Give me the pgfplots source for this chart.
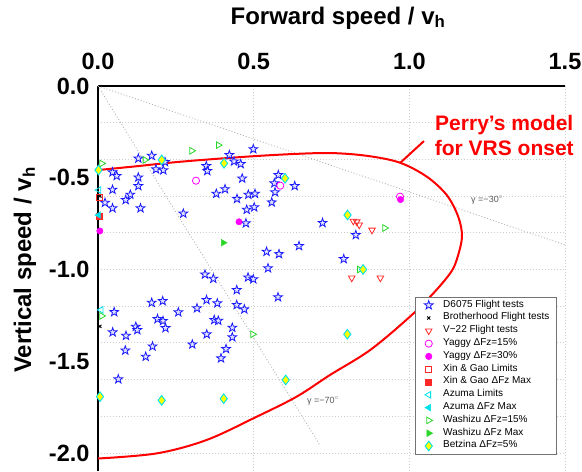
\documentclass[border=0pt]{standalone}
\usepackage{pgfplots}
\pgfplotsset{compat=1.18}
\usepackage{fontspec}
\setmainfont{Liberation Sans}
\usetikzlibrary{plotmarks}

\definecolor{mblue}{RGB}{25,25,255}
\definecolor{mgreen}{RGB}{40,215,40}
\definecolor{mcyan}{RGB}{0,225,235}
\definecolor{mmag}{RGB}{255,0,255}
\definecolor{mred}{RGB}{255,40,40}
\definecolor{myellow}{RGB}{255,255,0}
\definecolor{gridgray}{RGB}{205,205,205}
\definecolor{refgray}{RGB}{175,175,175}
\definecolor{perry}{RGB}{255,0,0}

\pgfdeclareplotmark{pentagram}{%
  \pgfpathmoveto{\pgfpointpolar{90}{\pgfplotmarksize}}%
  \pgfpathlineto{\pgfpointpolar{126}{0.40\pgfplotmarksize}}%
  \pgfpathlineto{\pgfpointpolar{162}{\pgfplotmarksize}}%
  \pgfpathlineto{\pgfpointpolar{198}{0.40\pgfplotmarksize}}%
  \pgfpathlineto{\pgfpointpolar{234}{\pgfplotmarksize}}%
  \pgfpathlineto{\pgfpointpolar{270}{0.40\pgfplotmarksize}}%
  \pgfpathlineto{\pgfpointpolar{306}{\pgfplotmarksize}}%
  \pgfpathlineto{\pgfpointpolar{342}{0.40\pgfplotmarksize}}%
  \pgfpathlineto{\pgfpointpolar{18}{\pgfplotmarksize}}%
  \pgfpathlineto{\pgfpointpolar{54}{0.40\pgfplotmarksize}}%
  \pgfpathclose
  \pgfusepathqfillstroke
}

\begin{document}
\begin{tikzpicture}
\path[use as bounding box] (-98bp,-0.65bp) rectangle (484bp,471.35bp);
\begin{axis}[
  scale only axis,
  width=467bp, height=385.35bp,
  xmin=0, xmax=1.5, ymin=-2.1, ymax=0,
  axis x line*=top, axis y line*=left,
  axis line style={line width=2.5bp, black},
  clip=false,
  xtick={0,0.5,1,1.5}, xticklabels={0.0,0.5,1.0,1.5},
  ytick={0,-0.5,-1,-1.5,-2}, yticklabels={0.0,-0.5,-1.0,-1.5,-2.0},
  minor ytick={-0.2,-0.4,-0.6,-0.8,-1.0,-1.2,-1.4,-1.6,-1.8,-2.0},
  xmajorgrids=true, yminorgrids=true, ymajorgrids=false,
  major tick length=0pt, minor tick length=0pt,
  grid style={gridgray, line width=0.8bp, dash pattern=on 1bp off 2bp},
  minor grid style={gridgray, line width=0.8bp, dash pattern=on 1bp off 2bp},
  tick label style={font=\fontsize{23.5bp}{25bp}\selectfont\bfseries},
  xticklabel style={yshift=13bp},
  yticklabel style={xshift=-5bp},
  xlabel={Forward speed / v\textsubscript{h}},
  ylabel={Vertical speed / v\textsubscript{h}},
  label style={font=\fontsize{24bp}{26bp}\selectfont\bfseries},
  xlabel style={at={(rel axis cs:0.514,1.1765)}, anchor=center},
  ylabel style={at={(rel axis cs:-0.1563,0.5225)}, anchor=center},
  legend style={at={(axis cs:1.018,-1.150)}, anchor=north west,
    font=\fontsize{10bp}{12bp}\selectfont, draw=black!55, line width=0.6bp,
    inner xsep=6.5bp, inner ysep=1.5bp,
    nodes={inner sep=0.5bp, text height=7.8bp, text depth=4bp},
    cells={anchor=west}},
  legend image code/.code={%
    \path[draw=none] (0bp,0bp) -- (21bp,0bp);
    \draw[#1, draw=none] plot[only marks] coordinates {(7bp,0bp)};},
]
% gamma reference lines
\addplot[refgray, line width=0.8bp, dash pattern=on 1bp off 2bp, forget plot] coordinates {(0,0) (1.5,-0.866)};
\addplot[refgray, line width=0.8bp, dash pattern=on 1bp off 2bp, forget plot] coordinates {(0,0) (0.713,-1.958)};

% D6075 Flight tests
\addplot[only marks, mark=pentagram, mark size=4.6bp, mark options={draw=mblue, fill=mblue!12, line width=0.8bp}] coordinates {
(0.1295,-0.395) (0.1725,-0.380) (0.2152,-0.414) (0.1863,-0.454) (0.2098,-0.459)
(0.0466,-0.470) (0.0601,-0.490) (0.1295,-0.498) (0.1295,-0.545) (0.0466,-0.565)
(0.1038,-0.592) (0.0890,-0.621) (0.0225,-0.636) (0.0466,-0.666) (0.1365,-0.666)
(0.274,-0.695) (0.4218,-0.376) (0.4989,-0.344) (0.4369,-0.411) (0.4584,-0.425)
(0.3479,-0.436) (0.3511,-0.463) (0.4632,-0.504) (0.408,-0.562) (0.380,-0.587)
(0.4465,-0.615) (0.4828,-0.592) (0.5043,-0.587) (0.4777,-0.674) (0.5018,-0.661)
(0.4751,-0.748) (0.558,-0.634) (0.5686,-0.579) (0.5663,-0.530) (0.5792,-0.485)
(0.6319,-0.545) (0.7212,-0.746) (0.6457,-0.872) (0.8281,-0.812) (0.7893,-0.943)
(0.5413,-0.903) (0.5814,-0.916) (0.5461,-0.993) (0.3437,-1.027) (0.3704,-1.050)
(0.4819,-1.043) (0.4989,-1.053) (0.4456,-1.112) (0.5782,-1.151) (0.1725,-1.181)
(0.2078,-1.172) (0.3485,-1.166) (0.3832,-1.184) (0.4456,-1.193) (0.470,-1.217)
(0.052,-1.232) (0.258,-1.233) (0.318,-1.211) (0.1911,-1.270) (0.2088,-1.280)
(0.3733,-1.275) (0.3864,-1.279) (0.1214,-1.312) (0.1262,-1.330) (0.2168,-1.319)
(0.0472,-1.342) (0.0899,-1.361) (0.3492,-1.353) (0.4314,-1.317) (0.4314,-1.369)
(0.1751,-1.419) (0.3029,-1.408) (0.4112,-1.433) (0.0877,-1.441) (0.1532,-1.475)
(0.3951,-1.484) (0.0652,-1.598)
};
\addlegendentry{D6075 Flight tests}
% Brotherhood
\addplot[only marks, mark=x, mark size=2.2bp, mark options={draw=black, line width=1bp}] coordinates {
(0.006,-0.600) (0.006,-1.31)
};
\addlegendentry{Brotherhood Flight tests}
% V-22
\addplot[only marks, mark=triangle, mark size=3.8bp, mark options={draw=mred, rotate=180, line width=0.8bp}] coordinates {
(0.820,-0.736) (0.831,-0.740) (0.839,-0.757) (0.880,-0.785) (0.815,-1.046) (0.907,-1.046)
};
\addlegendentry{V−22 Flight tests}
% Yaggy 15
\addplot[only marks, mark=o, mark size=3.6bp, mark options={draw=mmag, line width=0.8bp}] coordinates {
(0.3148,-0.516) (0.5854,-0.543) (0.970,-0.603)
};
\addlegendentry{Yaggy ΔFz=15\%}
% Yaggy 30
\addplot[only marks, mark=*, mark size=3.2bp, mark options={draw=mmag, fill=mmag}] coordinates {
(0.4529,-0.740) (0.9717,-0.619) (0.006,-0.79)
};
\addlegendentry{Yaggy ΔFz=30\%}
% Xin & Gao limits
\addplot[only marks, mark=square, mark size=3bp, mark options={draw=mred, line width=0.8bp}] coordinates {
(0.004,-0.605)
};
\addlegendentry{Xin \& Gao Limits}
% Xin & Gao max
\addplot[only marks, mark=square*, mark size=3bp, mark options={draw=mred, fill=mred}] coordinates {
(0.004,-0.708)
};
\addlegendentry{Xin \& Gao ΔFz Max}
% Azuma limits
\addplot[only marks, mark=triangle, mark size=3.8bp, mark options={draw=mcyan, rotate=90, line width=0.8bp}] coordinates {
(0.003,-0.567) (0.01,-1.22)
};
\addlegendentry{Azuma Limits}
% Azuma max
\addplot[only marks, mark=triangle*, mark size=3.8bp, mark options={draw=mcyan, fill=mcyan, rotate=90}] coordinates {
(0.002,-0.703)
};
\addlegendentry{Azuma ΔFz Max}
% Washizu 15
\addplot[only marks, mark=triangle, mark size=3.8bp, mark options={draw=mgreen, rotate=-90, line width=0.8bp}] coordinates {
(0.0119,-0.422) (0.151,-0.403) (0.301,-0.353) (0.3865,-0.322) (0.497,-1.353)
(0.921,-0.774) (0.840,-1.000) (0.0119,-1.253)
};
\addlegendentry{Washizu ΔFz=15\%}
% Washizu max
\addplot[only marks, mark=triangle*, mark size=3.8bp, mark options={draw=mgreen, fill=mgreen, rotate=-90}] coordinates {
(0.4025,-0.854)
};
\addlegendentry{Washizu ΔFz Max}
% Betzina
\addplot[only marks, mark=diamond*, mark size=4.8bp, mark options={draw=mcyan, fill=myellow, line width=0.9bp}] coordinates {
(0.0016,-0.458) (0.2046,-0.403) (0.4048,-0.421) (0.6007,-0.503) (0.8015,-0.703)
(0.8513,-1.000) (0.8008,-1.353) (0.603,-1.602) (0.0064,-1.693) (0.2046,-1.713)
(0.4038,-1.704)
};
\addlegendentry{Betzina ΔFz=5\%}

% Perry's model
\addplot[perry, line width=2bp, smooth, tension=0.55, forget plot] coordinates {
(0,-0.458) (0.12,-0.438) (0.263,-0.413) (0.478,-0.385) (0.649,-0.369) (0.76,-0.366)
(0.87,-0.382) (0.970,-0.418) (1.056,-0.494) (1.120,-0.594) (1.157,-0.712)
(1.169,-0.823) (1.152,-0.948) (1.131,-1.021) (1.077,-1.130) (1.002,-1.257)
(0.874,-1.439) (0.745,-1.575) (0.638,-1.693) (0.510,-1.802) (0.349,-1.929)
(0.189,-2.002) (0,-2.03)
};
\addplot[perry, line width=2bp, forget plot] coordinates {(0.970,-0.420) (1.047,-0.300)};

\node[text=perry, font=\fontsize{21bp}{25bp}\selectfont\bfseries, align=center] at (axis cs:1.305,-0.27) {Perry’s model\\for VRS onset};
\node[text=black!65, font=\fontsize{9bp}{10bp}\selectfont] at (axis cs:1.25,-0.621) {γ =−30$^{\circ}$};
\node[text=black!65, font=\fontsize{9bp}{10bp}\selectfont] at (axis cs:0.723,-1.717) {γ =−70$^{\circ}$};
\end{axis}
\end{tikzpicture}
\end{document}
